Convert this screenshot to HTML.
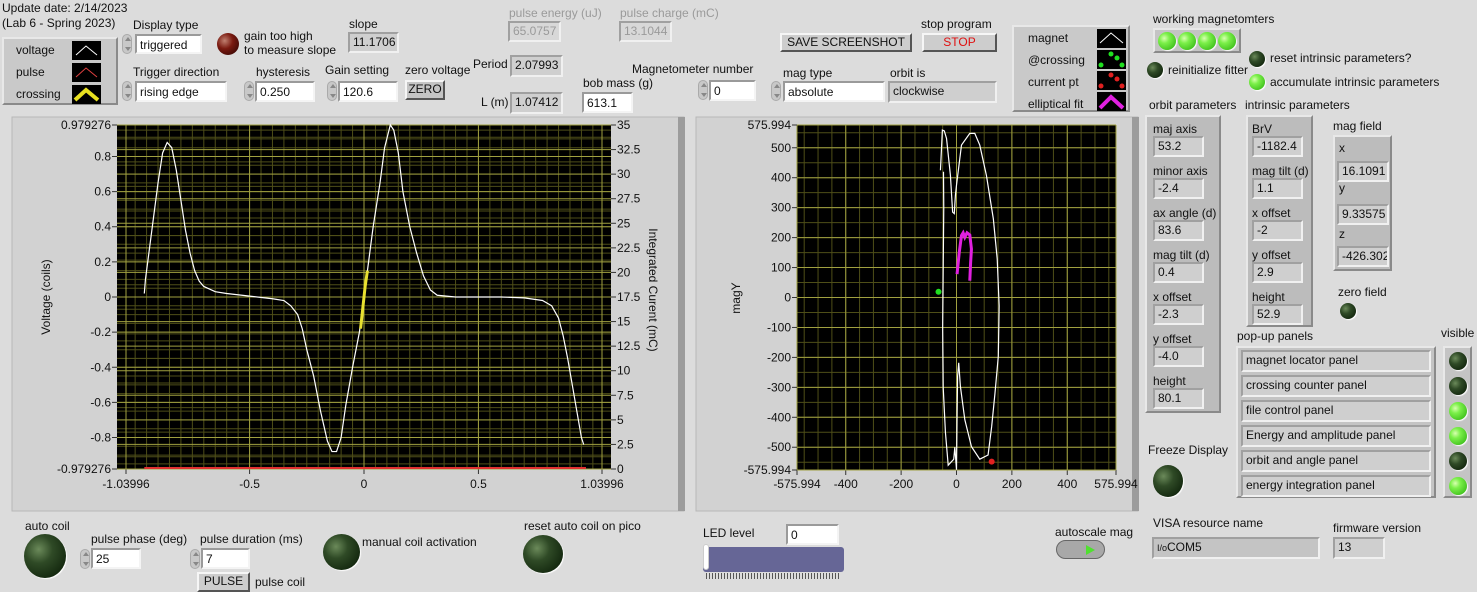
<!DOCTYPE html>
<html><head><meta charset="utf-8">
<style>
*{box-sizing:border-box}
body{margin:0;width:1477px;height:592px;overflow:hidden;background:#dcdcdc;font-family:"Liberation Sans",sans-serif;font-size:12px;color:#111;position:relative}
.a{position:absolute;white-space:nowrap}
.lbl{position:absolute;white-space:nowrap;font-size:12px;line-height:14px}
.inp{position:absolute;background:#fff;border:2px solid;border-color:#9a9a9a #f4f4f4 #f4f4f4 #9a9a9a;padding:2px 3px;font-size:12px;line-height:14px}
.ind{position:absolute;background:#cfcfcf;border:2px solid;border-color:#a0a0a0 #f0f0f0 #f0f0f0 #a0a0a0;padding:2px 3px;font-size:12px;line-height:13px}
.dis{color:#9a9a9a}
.spin{position:absolute;width:10px;border-radius:5px;background:#c8c8c8;border:1px solid #aaa}
.spin:before{content:"";position:absolute;left:2px;top:2px;border:3px solid transparent;border-bottom:4px solid #888;border-top:0}
.spin:after{content:"";position:absolute;left:2px;bottom:2px;border:3px solid transparent;border-top:4px solid #888;border-bottom:0}
.btn{position:absolute;background:#cdcdcd;border:2px solid;border-color:#f6f6f6 #555 #555 #f6f6f6;font-size:12px;text-align:center;line-height:14px}
.led{position:absolute;border-radius:50%}
.dk{background:radial-gradient(circle at 35% 35%,#6b8a5a 0,#2f4a26 35%,#152a10 75%);box-shadow:1px 1px 1px #fff}
.gr{background:radial-gradient(circle at 35% 35%,#d8ffb0 0,#7cf04a 30%,#3fc01c 80%);box-shadow:1px 1px 1px #fff}
.clus{position:absolute;background:#bcbcbc;border:2px solid;border-color:#e8e8e8 #8a8a8a #8a8a8a #e8e8e8}
</style></head><body>
<svg id="charts" width="1477" height="592" style="position:absolute;left:0;top:0">
  <rect x="12" y="117" width="672" height="394" fill="#d2d2d2" stroke="#b8b8b8"/>
  <rect x="678" y="117" width="7" height="394" fill="#9c9c9c"/>
  <rect x="696" y="117" width="442" height="394" fill="#d2d2d2" stroke="#b8b8b8"/>
  <rect x="1132" y="117" width="7" height="394" fill="#9c9c9c"/>
  <g id="left"></g>
  <g id="right"></g>
</svg>

<div class="lbl" style="left:2px;top:1px">Update date: 2/14/2023</div>
<div class="lbl" style="left:2px;top:16px">(Lab 6 - Spring 2023)</div>

<div class="clus" style="left:2px;top:37px;width:116px;height:68px;background:#c9c9c9">
  <div class="lbl" style="left:12px;top:4px">voltage</div>
  <div class="lbl" style="left:12px;top:26px">pulse</div>
  <div class="lbl" style="left:12px;top:48px">crossing</div>
  <svg class="a" style="left:68px;top:1px" width="30" height="64">
    <rect x="0" y="1" width="29" height="19" fill="#000"/><polyline points="4,15 14,6 25,15" fill="none" stroke="#fff" stroke-width="1"/>
    <rect x="0" y="23" width="29" height="19" fill="#000"/><polyline points="4,37 14,28 25,37" fill="none" stroke="#e04040" stroke-width="1"/>
    <rect x="0" y="45" width="29" height="19" fill="#000"/><polyline points="3,60 14,50 26,60" fill="none" stroke="#e8e020" stroke-width="4"/>
  </svg>
</div>

<div class="lbl" style="left:133px;top:18px">Display type</div>
<div class="spin" style="left:122px;top:34px;height:20px"></div>
<div class="inp" style="left:135px;top:34px;width:67px;height:20px">triggered</div>
<div class="led" style="left:217px;top:33px;width:22px;height:22px;background:radial-gradient(circle at 35% 35%,#c08070 0,#7a1a10 40%,#3a0805 85%)"></div>
<div class="lbl" style="left:244px;top:29px">gain too high<br>to measure slope</div>
<div class="lbl" style="left:349px;top:17px">slope</div>
<div class="ind" style="left:348px;top:32px;width:51px;height:21px">11.1706</div>

<div class="lbl dis" style="left:509px;top:6px">pulse energy (uJ)</div>
<div class="ind dis" style="left:508px;top:21px;width:53px;height:21px;background:#d8d8d8">65.0757</div>
<div class="lbl dis" style="left:620px;top:6px">pulse charge (mC)</div>
<div class="ind dis" style="left:619px;top:21px;width:53px;height:21px;background:#d8d8d8">13.1044</div>

<div class="lbl" style="left:133px;top:65px">Trigger direction</div>
<div class="spin" style="left:122px;top:81px;height:20px"></div>
<div class="inp" style="left:135px;top:81px;width:92px;height:21px">rising edge</div>
<div class="lbl" style="left:256px;top:65px">hysteresis</div>
<div class="spin" style="left:244px;top:81px;height:20px"></div>
<div class="inp" style="left:255px;top:81px;width:60px;height:21px">0.250</div>
<div class="lbl" style="left:325px;top:63px">Gain setting</div>
<div class="spin" style="left:327px;top:81px;height:20px"></div>
<div class="inp" style="left:338px;top:81px;width:60px;height:21px">120.6</div>
<div class="lbl" style="left:405px;top:63px">zero voltage</div>
<div class="btn" style="left:405px;top:80px;width:40px;height:20px;background:#c4c4c4">ZERO</div>
<div class="lbl" style="left:473px;top:57px">Period</div>
<div class="ind" style="left:510px;top:55px;width:53px;height:22px">2.07993</div>
<div class="lbl" style="left:481px;top:95px">L (m)</div>
<div class="ind" style="left:510px;top:92px;width:53px;height:22px">1.07412</div>
<div class="lbl" style="left:583px;top:76px">bob mass (g)</div>
<div class="inp" style="left:582px;top:92px;width:51px;height:21px">613.1</div>
<div class="lbl" style="left:632px;top:62px">Magnetometer number</div>
<div class="spin" style="left:698px;top:80px;height:20px"></div>
<div class="inp" style="left:709px;top:80px;width:47px;height:21px">0</div>
<div class="lbl" style="left:783px;top:66px">mag type</div>
<div class="spin" style="left:771px;top:81px;height:20px"></div>
<div class="inp" style="left:783px;top:81px;width:102px;height:21px">absolute</div>
<div class="lbl" style="left:890px;top:66px">orbit is</div>
<div class="ind" style="left:888px;top:81px;width:109px;height:22px">clockwise</div>

<div class="btn" style="left:780px;top:33px;width:132px;height:19px">SAVE SCREENSHOT</div>
<div class="lbl" style="left:921px;top:17px">stop program</div>
<div class="btn" style="left:922px;top:33px;width:75px;height:19px;color:#e01010">STOP</div>

<div class="clus" style="left:1012px;top:25px;width:118px;height:87px;background:#c9c9c9">
  <div class="lbl" style="left:14px;top:4px">magnet</div>
  <div class="lbl" style="left:14px;top:26px">@crossing</div>
  <div class="lbl" style="left:14px;top:48px">current pt</div>
  <div class="lbl" style="left:14px;top:70px">elliptical fit</div>
  <svg class="a" style="left:83px;top:1px" width="30" height="84">
    <rect x="0" y="1" width="29" height="19" fill="#000"/><polyline points="3,15 14,5 26,15" fill="none" stroke="#fff"/>
    <rect x="0" y="22" width="29" height="19" fill="#000"/><circle cx="4" cy="37" r="2.5" fill="#20e020"/><circle cx="14" cy="26" r="2.5" fill="#20e020"/><circle cx="25" cy="37" r="2.5" fill="#20e020"/><circle cx="20" cy="30" r="2.5" fill="#20e020"/>
    <rect x="0" y="43" width="29" height="19" fill="#000"/><circle cx="4" cy="58" r="2.5" fill="#e02020"/><circle cx="14" cy="47" r="2.5" fill="#e02020"/><circle cx="25" cy="58" r="2.5" fill="#e02020"/><circle cx="20" cy="51" r="2.5" fill="#e02020"/>
    <rect x="0" y="64" width="29" height="19" fill="#000"/><polyline points="3,80 14,69 26,80" fill="none" stroke="#e020e0" stroke-width="4"/>
  </svg>
</div>

<div class="lbl" style="left:1153px;top:12px">working magnetomters</div>
<div class="clus" style="left:1153px;top:28px;width:88px;height:25px;background:#c4c4c4">
  <div class="led gr" style="left:3px;top:2px;width:18px;height:18px"></div>
  <div class="led gr" style="left:23px;top:2px;width:18px;height:18px"></div>
  <div class="led gr" style="left:43px;top:2px;width:18px;height:18px"></div>
  <div class="led gr" style="left:63px;top:2px;width:18px;height:18px"></div>
</div>
<div class="led dk" style="left:1147px;top:62px;width:16px;height:16px"></div>
<div class="lbl" style="left:1168px;top:63px">reinitialize fitter</div>
<div class="led dk" style="left:1249px;top:51px;width:16px;height:16px"></div>
<div class="lbl" style="left:1270px;top:51px">reset intrinsic parameters?</div>
<div class="led gr" style="left:1249px;top:74px;width:16px;height:16px"></div>
<div class="lbl" style="left:1270px;top:75px">accumulate intrinsic parameters</div>

<div class="lbl" style="left:1149px;top:98px">orbit parameters</div>
<div class="clus" style="left:1145px;top:115px;width:76px;height:298px">
  <div class="lbl" style="left:6px;top:5px">maj axis</div><div class="ind" style="left:6px;top:19px;width:51px;height:21px">53.2</div>
  <div class="lbl" style="left:6px;top:47px">minor axis</div><div class="ind" style="left:6px;top:61px;width:51px;height:21px">-2.4</div>
  <div class="lbl" style="left:6px;top:89px">ax angle (d)</div><div class="ind" style="left:6px;top:103px;width:51px;height:21px">83.6</div>
  <div class="lbl" style="left:6px;top:131px">mag  tilt (d)</div><div class="ind" style="left:6px;top:145px;width:51px;height:21px">0.4</div>
  <div class="lbl" style="left:6px;top:173px">x offset</div><div class="ind" style="left:6px;top:187px;width:51px;height:21px">-2.3</div>
  <div class="lbl" style="left:6px;top:215px">y offset</div><div class="ind" style="left:6px;top:229px;width:51px;height:21px">-4.0</div>
  <div class="lbl" style="left:6px;top:257px">height</div><div class="ind" style="left:6px;top:271px;width:51px;height:21px">80.1</div>
</div>
<div class="lbl" style="left:1245px;top:98px">intrinsic parameters</div>
<div class="clus" style="left:1246px;top:115px;width:67px;height:212px">
  <div class="lbl" style="left:4px;top:5px">BrV</div><div class="ind" style="left:4px;top:19px;width:51px;height:21px">-1182.4</div>
  <div class="lbl" style="left:4px;top:47px">mag tilt (d)</div><div class="ind" style="left:4px;top:61px;width:51px;height:21px">1.1</div>
  <div class="lbl" style="left:4px;top:89px">x offset</div><div class="ind" style="left:4px;top:103px;width:51px;height:21px">-2</div>
  <div class="lbl" style="left:4px;top:131px">y offset</div><div class="ind" style="left:4px;top:145px;width:51px;height:21px">2.9</div>
  <div class="lbl" style="left:4px;top:173px">height</div><div class="ind" style="left:4px;top:187px;width:51px;height:21px">52.9</div>
</div>
<div class="lbl" style="left:1333px;top:119px">mag field</div>
<div class="clus" style="left:1333px;top:135px;width:59px;height:136px">
  <div class="lbl" style="left:4px;top:4px">x</div><div class="ind" style="left:2px;top:24px;width:52px;height:21px">16.1091</div>
  <div class="lbl" style="left:4px;top:44px">y</div><div class="ind" style="left:2px;top:67px;width:52px;height:21px">9.33575</div>
  <div class="lbl" style="left:4px;top:90px">z</div><div class="ind" style="left:2px;top:109px;width:52px;height:21px;overflow:hidden">-426.302</div>
</div>
<div class="lbl" style="left:1338px;top:285px">zero field</div>
<div class="led dk" style="left:1340px;top:303px;width:16px;height:16px"></div>

<div class="lbl" style="left:1237px;top:329px">pop-up panels</div>
<div class="clus" style="left:1236px;top:346px;width:200px;height:152px;background:#c4c4c4">
  <div class="ind" style="left:3px;top:2px;width:190px;height:22px">magnet locator panel</div>
  <div class="ind" style="left:3px;top:27px;width:190px;height:22px">crossing counter panel</div>
  <div class="ind" style="left:3px;top:52px;width:190px;height:22px">file control panel</div>
  <div class="ind" style="left:3px;top:77px;width:190px;height:22px">Energy and amplitude panel</div>
  <div class="ind" style="left:3px;top:102px;width:190px;height:22px">orbit and angle panel</div>
  <div class="ind" style="left:3px;top:127px;width:190px;height:22px">energy integration panel</div>
</div>
<div class="lbl" style="left:1441px;top:326px">visible</div>
<div class="clus" style="left:1443px;top:346px;width:29px;height:152px;background:#c4c4c4">
  <div class="led dk" style="left:4px;top:4px;width:18px;height:18px"></div>
  <div class="led dk" style="left:4px;top:29px;width:18px;height:18px"></div>
  <div class="led gr" style="left:4px;top:54px;width:18px;height:18px"></div>
  <div class="led gr" style="left:4px;top:79px;width:18px;height:18px"></div>
  <div class="led dk" style="left:4px;top:104px;width:18px;height:18px"></div>
  <div class="led gr" style="left:4px;top:129px;width:18px;height:18px"></div>
</div>
<div class="lbl" style="left:1148px;top:443px">Freeze Display</div>
<div class="led dk" style="left:1153px;top:465px;width:30px;height:32px"></div>

<div class="lbl" style="left:1153px;top:516px">VISA resource name</div>
<div class="ind" style="left:1152px;top:537px;width:168px;height:22px;background:#c4c4c4"><span style="font-size:9px">I/o</span>COM5</div>
<div class="lbl" style="left:1333px;top:521px">firmware version</div>
<div class="ind" style="left:1333px;top:537px;width:52px;height:22px">13</div>
<div class="lbl" style="left:1055px;top:525px">autoscale mag</div>
<div class="a" style="left:1056px;top:540px;width:49px;height:19px;border-radius:10px;background:#a8a8a8;border:1px solid #666"><div style="position:absolute;right:9px;top:4px;border:5px solid transparent;border-left:9px solid #50e030;border-right:0"></div></div>

<div class="lbl" style="left:703px;top:526px">LED level</div>
<div class="inp" style="left:786px;top:524px;width:53px;height:21px">0</div>
<div class="a" style="left:703px;top:547px;width:141px;height:25px;background:#666696;border-radius:3px"><div style="position:absolute;left:0;top:-3px;width:6px;height:26px;background:#fff;border-radius:3px;border:1px solid #ccc"></div></div>
<div class="a" style="left:706px;top:573px;width:135px;height:6px;background:repeating-linear-gradient(90deg,#555 0 1px,transparent 1px 3px)"></div>

<div class="lbl" style="left:524px;top:519px">reset auto coil on pico</div>
<div class="led dk" style="left:523px;top:535px;width:40px;height:38px"></div>
<div class="lbl" style="left:362px;top:535px">manual coil activation</div>
<div class="led dk" style="left:323px;top:534px;width:37px;height:36px"></div>
<div class="lbl" style="left:200px;top:532px">pulse duration (ms)</div>
<div class="spin" style="left:190px;top:549px;height:20px"></div>
<div class="inp" style="left:201px;top:548px;width:49px;height:21px">7</div>
<div class="btn" style="left:197px;top:572px;width:53px;height:20px">PULSE</div>
<div class="lbl" style="left:255px;top:575px">pulse coil</div>
<div class="lbl" style="left:91px;top:532px">pulse phase (deg)</div>
<div class="spin" style="left:80px;top:549px;height:20px"></div>
<div class="inp" style="left:91px;top:548px;width:50px;height:21px">25</div>
<div class="lbl" style="left:25px;top:519px">auto coil</div>
<div class="led dk" style="left:24px;top:534px;width:42px;height:44px"></div>

<script>
// ---- waveform chart data ----
const voltX = [-0.96,-0.955,-0.94,-0.92,-0.90,-0.88,-0.86,-0.84,-0.82,-0.80,-0.78,-0.76,-0.74,-0.72,-0.70,-0.65,-0.60,-0.50,-0.40,-0.35,-0.32,-0.29,-0.27,-0.25,-0.22,-0.19,-0.16,-0.14,-0.12,-0.10,-0.08,-0.05,-0.02,0,0.02,0.04,0.07,0.09,0.115,0.13,0.15,0.17,0.20,0.23,0.26,0.29,0.32,0.40,0.50,0.60,0.70,0.78,0.82,0.85,0.87,0.89,0.91,0.93,0.95,0.96];
const voltY = [0.02,0.10,0.25,0.45,0.65,0.82,0.88,0.85,0.72,0.55,0.38,0.25,0.15,0.09,0.06,0.03,0.02,0.005,-0.01,-0.02,-0.05,-0.10,-0.18,-0.30,-0.45,-0.65,-0.82,-0.88,-0.88,-0.80,-0.62,-0.40,-0.20,0,0.20,0.40,0.65,0.85,0.98,0.95,0.82,0.60,0.40,0.25,0.12,0.04,0.01,0.0,0.0,0.0,-0.005,-0.02,-0.05,-0.12,-0.22,-0.35,-0.50,-0.65,-0.80,-0.84];
const crossX = [-0.015,-0.005,0.005,0.015];
const crossY = [-0.18,-0.06,0.06,0.15];
const pulseX = [-0.96,0.97];
const pulseC = [0,0];
const xTicksL = [-1.03996,-0.5,0,0.5,1.03996];
const xTickLabelsL = ["-1.03996","-0.5","0","0.5","1.03996"];
const yTicksL = [0.979276,0.8,0.6,0.4,0.2,0,-0.2,-0.4,-0.6,-0.8,-0.979276];
const yTickLabelsL = ["0.979276","0.8","0.6","0.4","0.2","0","-0.2","-0.4","-0.6","-0.8","-0.979276"];
const yTicksR = [0,2.5,5,7.5,10,12.5,15,17.5,20,22.5,25,27.5,30,32.5,35];
// ---- magnet chart data ----
const magX = [-58,-51,-44,-36,-22,-14,-8,-4,0,18,48,66,84,108,133,147,154,151,139,127,114,84,54,30,14,8,4,2,0,-6,-10,-30,-40,-48,-50,-48,-46,-47];
const magY = [425,559,556,531,408,285,280,341,375,509,548,548,509,408,263,129,-28,-196,-319,-431,-526,-540,-498,-408,-296,-218,-263,-400,-575,-500,-540,-560,-450,-300,-100,100,300,420];
const fitX = [2,10,18,24,30,38,48,54,51,48];
const fitY = [78,151,207,216,201,216,209,162,117,56];
const crossPtX = [-65];
const crossPtY = [19];
const curPtX = [127];
const curPtY = [-548];
const magTicks = [-575.994,-400,-200,0,200,400,575.994];
const magTickLabels = ["-575.994","-400","-200","0","200","400","575.994"];
const magYTicks = [575.994,500,400,300,200,100,0,-100,-200,-300,-400,-500,-575.994];
const magYTickLabels = ["575.994","500","400","300","200","100","0","-100","-200","-300","-400","-500","-575.994"];

const NS="http://www.w3.org/2000/svg";
function mk(parent,tag,attrs,text){const e=document.createElementNS(NS,tag);for(const k in attrs)e.setAttribute(k,attrs[k]);if(text!==undefined)e.textContent=text;parent.appendChild(e);return e;}

const xL=v=>126+(v+1.03996)/2.07992*476;
const yL=v=>469-(v+0.979276)/1.958552*344;
const yR=c=>469-c/35*344;
const L=document.getElementById('left');
const pl=mk(L,'rect',{x:117,y:125,width:494,height:344,fill:'#000'});


for(let v=-1.0;v<=1.04;v+=0.05){mk(L,'line',{x1:xL(v),x2:xL(v),y1:125,y2:469,stroke:'#4e4e18','stroke-width':1});}
for(let v=-0.95;v<=0.96;v+=0.05){mk(L,'line',{x1:117,x2:611,y1:yL(v),y2:yL(v),stroke:'#4e4e18','stroke-width':1});}
for(let c=1.25;c<35;c+=2.5){mk(L,'line',{x1:117,x2:611,y1:yR(c),y2:yR(c),stroke:'#4e4e18','stroke-width':1});}
xTicksL.forEach((v,i)=>{mk(L,'line',{x1:xL(v),x2:xL(v),y1:125,y2:469,stroke:'#a0a040'});mk(L,'line',{x1:xL(v),x2:xL(v),y1:469,y2:474,stroke:'#333'});
 const t=mk(L,'text',{x:xL(v),y:488,'text-anchor':'middle','font-size':12,fill:'#111'},xTickLabelsL[i]);
 
 });
yTicksL.forEach((v,i)=>{mk(L,'line',{x1:117,x2:611,y1:yL(v),y2:yL(v),stroke:'#a0a040'});mk(L,'line',{x1:112,x2:117,y1:yL(v),y2:yL(v),stroke:'#333'});
 const t=mk(L,'text',{x:111,y:yL(v)+4,'text-anchor':'end','font-size':12,fill:'#111'},yTickLabelsL[i]);
 
 });
yTicksR.forEach(c=>{mk(L,'line',{x1:117,x2:611,y1:yR(c),y2:yR(c),stroke:'#a0a040'});mk(L,'line',{x1:611,x2:616,y1:yR(c),y2:yR(c),stroke:'#333'});
 const t=mk(L,'text',{x:617,y:yR(c)+4,'font-size':12,fill:'#111'},String(c));
 
 });
const yt=mk(L,'text',{x:50,y:297,'text-anchor':'middle','font-size':12,fill:'#111',transform:'rotate(-90 50 297)'},'Voltage (coils)');


const rt=mk(L,'text',{x:649,y:290,'text-anchor':'middle','font-size':12,fill:'#111',transform:'rotate(90 649 290)'},'Integrated Curent (mC)');


const vl=mk(L,'polyline',{points:voltX.map((x,i)=>xL(x)+','+yL(voltY[i])).join(' '),fill:'none',stroke:'#fff','stroke-width':1.2});


const pu=mk(L,'polyline',{points:pulseX.map((x,i)=>xL(x)+','+(yR(pulseC[i])-1)).join(' '),fill:'none',stroke:'#e03030','stroke-width':2});


const cr=mk(L,'polyline',{points:crossX.map((x,i)=>xL(x)+','+yL(crossY[i])).join(' '),fill:'none',stroke:'#e8e030','stroke-width':3});



const xM=v=>797+(v+575.994)/1151.988*319;
const yM=v=>470-(v+575.994)/1151.988*345;
const R=document.getElementById('right');
const pr=mk(R,'rect',{x:797,y:125,width:319,height:345,fill:'#000'});


for(let v=-550;v<=575;v+=50){mk(R,'line',{x1:xM(v),x2:xM(v),y1:125,y2:470,stroke:'#4e4e18'});mk(R,'line',{x1:797,x2:1116,y1:yM(v),y2:yM(v),stroke:'#4e4e18'});}
magTicks.forEach((v,i)=>{mk(R,'line',{x1:xM(v),x2:xM(v),y1:125,y2:470,stroke:'#a0a040'});mk(R,'line',{x1:xM(v),x2:xM(v),y1:470,y2:475,stroke:'#333'});
 const t=mk(R,'text',{x:xM(v),y:488,'text-anchor':'middle','font-size':12,fill:'#111'},magTickLabels[i]);
 
 });
magYTicks.forEach((v,i)=>{mk(R,'line',{x1:797,x2:1116,y1:yM(v),y2:yM(v),stroke:'#a0a040'});mk(R,'line',{x1:792,x2:797,y1:yM(v),y2:yM(v),stroke:'#333'});
 const t=mk(R,'text',{x:791,y:yM(v)+4,'text-anchor':'end','font-size':12,fill:'#111'},magYTickLabels[i]);
 
 });
const my=mk(R,'text',{x:740,y:298,'text-anchor':'middle','font-size':12,fill:'#111',transform:'rotate(-90 740 298)'},'magY');


const mg=mk(R,'polyline',{points:magX.map((x,i)=>xM(x)+','+yM(magY[i])).join(' '),fill:'none',stroke:'#fff','stroke-width':1.2});


const ft=mk(R,'polyline',{points:fitX.map((x,i)=>xM(x)+','+yM(fitY[i])).join(' '),fill:'none',stroke:'#e020e0','stroke-width':3});


crossPtX.forEach((x,i)=>{const c=mk(R,'circle',{cx:xM(x),cy:yM(crossPtY[i]),r:3,fill:'#20e020'});
 
 });
curPtX.forEach((x,i)=>{const c=mk(R,'circle',{cx:xM(x),cy:yM(curPtY[i]),r:3,fill:'#e02020'});
 
 });
</script>
</body></html>
